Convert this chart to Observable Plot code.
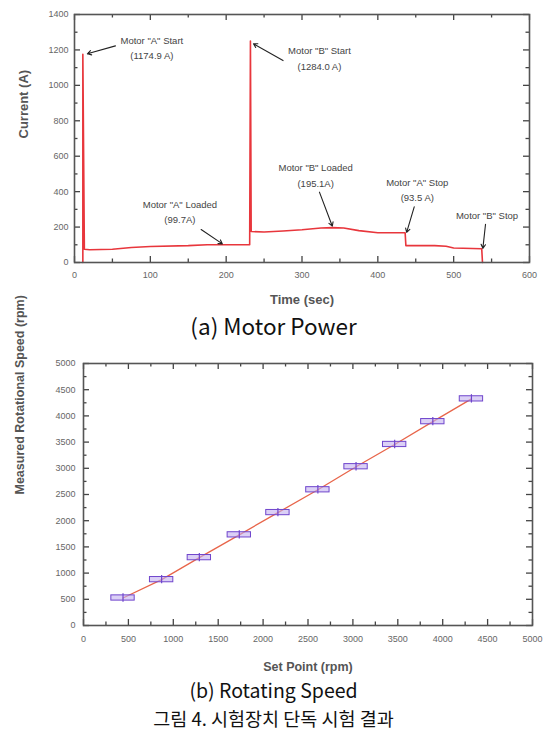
<!DOCTYPE html>
<html><head><meta charset="utf-8">
<script src="https://cdn.jsdelivr.net/npm/d3@7"></script>
<script src="https://cdn.jsdelivr.net/npm/@observablehq/plot@0.6"></script>
<style>
body{margin:0;background:#fff;}
#wrap{position:relative;width:547px;height:731px;overflow:hidden;background:#fff;}
.cap{position:absolute;left:0;width:547px;text-align:center;font-family:"Noto Sans CJK KR","Noto Sans",sans-serif;line-height:20px;color:#111;white-space:nowrap;}
#a,#b{position:absolute;left:0;}
#a{top:0;}
#b{top:340px;}
</style></head><body>
<div id="wrap">
<div id="a"></div>
<div class="cap" style="top:315px;font-size:22.5px">(a) Motor Power</div>
<div id="b"></div>
<div class="cap" style="top:680px;font-size:19.5px">(b) Rotating Speed</div>
<div class="cap" style="top:707.5px;font-size:18.5px">그림 4. 시험장치 단독 시험 결과</div>
</div>
<script>
// ---------- (a) Motor Power ----------
const timeSec  = [11, 11, 13, 20, 50, 75, 100, 150, 175, 200, 231, 232, 233, 250, 275, 300, 325, 340, 355, 375, 400, 436, 437, 475, 490, 500, 537, 538];
const currentA = [0, 1174.9, 75, 72, 75, 85, 90, 95, 100, 100, 100, 1250, 175, 172, 178, 185, 195, 197, 195, 180, 168, 168, 95, 95, 92, 82, 78, 0];

const annLabels = ['Motor "A" Start\n(1174.9 A)', 'Motor "B" Start\n(1284.0 A)', 'Motor "A" Loaded\n(99.7A)', 'Motor "B" Loaded\n(195.1A)', 'Motor "A" Stop\n(93.5 A)', 'Motor "B" Stop'];
const annTextT  = [102, 323, 139, 318, 452, 544];
const annTextI  = [1218, 1159, 295, 499, 419, 275];
const arrowFromT = [54, 275, 167, 323, 448, 542];
const arrowFromI = [1223, 1140, 186, 397, 314, 216];
const arrowToT   = [17, 236, 195, 340, 438, 538.5];
const arrowToI   = [1178, 1235, 105, 205, 170, 80];

const aXMajor = [0, 100, 200, 300, 400, 500, 600];
const aXMinor = [50, 150, 250, 350, 450, 550];
const aYMajor = [0, 200, 400, 600, 800, 1000, 1200, 1400];
const aYMinor = [100, 300, 500, 700, 900, 1100, 1300];

// ---------- (b) Rotating Speed ----------
const setPoint = [440, 870, 1290, 1735, 2165, 2610, 3035, 3465, 3890, 4320];
const measured = [525, 875, 1295, 1730, 2155, 2590, 3030, 3455, 3890, 4325];
const setErr   = [130, 130, 130, 130, 130, 130, 130, 130, 130, 130];
const measErr  = [50, 50, 50, 50, 50, 50, 50, 50, 50, 50];

const bMajor = [0, 500, 1000, 1500, 2000, 2500, 3000, 3500, 4000, 4500, 5000];
const bMinor = [250, 750, 1250, 1750, 2250, 2750, 3250, 3750, 4250, 4750];

// ---------- helpers ----------
const axisColor = "#555";
// inward ticks on all four sides of the frame; lengths given in px, converted via the domain span
function frameTicks(xMaj, xMin, yMaj, yMin, xDom, yDom, W, H) {
  const marks = [];
  const common = {stroke: "#444", strokeWidth: 1.3};
  const xs = xDom[1] - xDom[0], ys = yDom[1] - yDom[0];
  for (const [vals, len] of [[xMaj, 6], [xMin, 3.5]]) {
    const dl = len / H * ys;
    marks.push(Plot.ruleX(vals, {x: d => d, y1: yDom[0], y2: yDom[0] + dl, ...common}));
    marks.push(Plot.ruleX(vals, {x: d => d, y1: yDom[1] - dl, y2: yDom[1], ...common}));
  }
  for (const [vals, len] of [[yMaj, 6], [yMin, 3.5]]) {
    const dl = len / W * xs;
    marks.push(Plot.ruleY(vals, {y: d => d, x1: xDom[0], x2: xDom[0] + dl, ...common}));
    marks.push(Plot.ruleY(vals, {y: d => d, x1: xDom[1] - dl, x2: xDom[1], ...common}));
  }
  return marks;
}
const style = {fontFamily: "'Liberation Sans', Arial, sans-serif", fontSize: "9px", color: axisColor, background: "transparent", overflow: "visible"};
const fmt = d => String(d);

// ---------- chart (a) ----------
const aData = timeSec.map((t, i) => ({t, I: currentA[i]}));
const anns = annLabels.map((label, i) => ({
  label, t: annTextT[i], I: annTextI[i],
  x1: arrowFromT[i], y1: arrowFromI[i], x2: arrowToT[i], y2: arrowToI[i]
}));

const aW = 547 - 74 - 18, aH = 312 - 14 - 50;
const aXDom = [0, 600], aYDom = [0, 1400];
const plotA = Plot.plot({
  width: 547, height: 312,
  marginLeft: 74, marginRight: 18, marginTop: 14, marginBottom: 50,
  x: {domain: aXDom},
  y: {domain: aYDom},
  style,
  marks: [
    Plot.line(aData, {x: "t", y: "I", stroke: "#e8363c", strokeWidth: 1.6}),
    ...frameTicks(aXMajor, aXMinor, aYMajor, aYMinor, aXDom, aYDom, aW, aH),
    Plot.frame({stroke: axisColor, strokeWidth: 1.6}),
    Plot.axisX(aXMajor, {tickSize: 0, tickPadding: 9, fontSize: 9, fill: "#666", label: null, tickFormat: fmt}),
    Plot.axisY(aYMajor, {tickSize: 0, tickPadding: 6, fontSize: 9, fill: "#666", label: null, tickFormat: fmt}),
    Plot.arrow(anns, {x1: "x1", y1: "y1", x2: "x2", y2: "y2", stroke: "#222", strokeWidth: 1.1, headLength: 6}),
    Plot.text(anns, {x: "t", y: "I", text: "label", fontSize: 9.5, lineHeight: 1.6, fill: "#444"}),
    Plot.text(["Current (A)"], {frameAnchor: "left", rotate: -90, dx: -51, fontSize: 13, fontWeight: "bold", fill: "#555"}),
    Plot.text(["Time (sec)"], {frameAnchor: "bottom", dy: 37, lineAnchor: "middle", fontSize: 13, fontWeight: "bold", fill: "#555"})
  ]
});
document.getElementById("a").appendChild(plotA);

// ---------- chart (b) ----------
const bData = setPoint.map((s, i) => ({s, m: measured[i], xe: setErr[i], ye: measErr[i]}));
const bW = 547 - 83 - 15, bH = 345 - 23 - 60;
const bDom = [0, 5000];
const plotB = Plot.plot({
  width: 547, height: 345,
  marginLeft: 83, marginRight: 15, marginTop: 23, marginBottom: 60,
  x: {domain: bDom},
  y: {domain: bDom},
  style,
  marks: [
    Plot.line(bData, {x: "s", y: "m", stroke: "#e8654a", strokeWidth: 1.3}),
    Plot.rect(bData, {x1: d => d.s - d.xe, x2: d => d.s + d.xe, y1: d => d.m - d.ye, y2: d => d.m + d.ye, fill: "#c3b0f0", fillOpacity: 0.6, stroke: "#6f45cc", strokeWidth: 1}),
    Plot.ruleX(bData, {x: "s", y1: d => d.m - d.ye * 1.6, y2: d => d.m + d.ye * 1.6, stroke: "#6f45cc", strokeWidth: 1.2}),
    ...frameTicks(bMajor, bMinor, bMajor, bMinor, bDom, bDom, bW, bH),
    Plot.frame({stroke: axisColor, strokeWidth: 1.6}),
    Plot.axisX(bMajor, {tickSize: 0, tickPadding: 10, fontSize: 9, fill: "#666", label: null, tickFormat: fmt}),
    Plot.axisY(bMajor, {tickSize: 0, tickPadding: 8, fontSize: 9, fill: "#666", label: null, tickFormat: fmt}),
    Plot.text(["Measured Rotational Speed (rpm)"], {frameAnchor: "left", rotate: -90, dx: -64, fontSize: 12.5, fontWeight: "bold", fill: "#555"}),
    Plot.text(["Set Point (rpm)"], {frameAnchor: "bottom", dy: 41, lineAnchor: "middle", fontSize: 12.5, fontWeight: "bold", fill: "#555"})
  ]
});
document.getElementById("b").appendChild(plotB);
</script>
</body></html>
